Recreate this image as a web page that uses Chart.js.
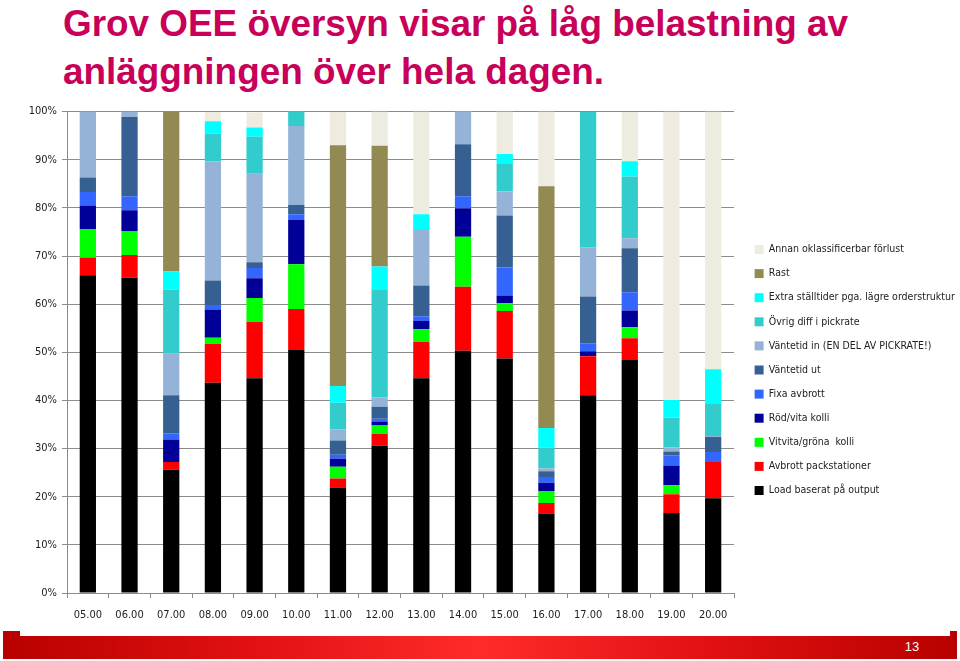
<!DOCTYPE html>
<html>
<head>
<meta charset="utf-8">
<script src="https://cdn.jsdelivr.net/npm/chart.js@4.4.0/dist/chart.umd.min.js"></script>
<style>
  html, body { margin: 0; padding: 0; background: #fff; }
  body { width: 960px; height: 661px; position: relative; overflow: hidden; }
  #title {
    position: absolute; left: 63px; top: 0px;
    font-family: "Liberation Sans", Arial, sans-serif; font-weight: bold;
    font-size: 37px; line-height: 48px; color: #c8005a; white-space: nowrap;
  }
  #title span { display: block; transform-origin: left center; }
  #chartBox { position: absolute; left: 0; top: 100px; width: 960px; height: 530px; }
  #footer {
    position: absolute; left: 3px; top: 636px; width: 954px; height: 23px;
    background: linear-gradient(to right, #b80000 0%, #e01010 25%, #ff2b2b 50%, #e01010 75%, #b80000 100%);
  }
  .tab { position: absolute; top: 631px; height: 6px; background: #b80000; }
  #pageNo {
    position: absolute; left: 902px; top: 638px; width: 20px; text-align: center;
    font-family: "Liberation Sans", Arial, sans-serif; font-size: 13px; line-height: 18px; color: #fff;
  }
</style>
</head>
<body>
<div id="title"><span id="t1">Grov OEE översyn visar på låg belastning av</span><span id="t2">anläggningen över hela dagen.</span></div>
<div id="chartBox"><canvas id="chart"></canvas></div>
<div class="tab" style="left:3px; width:17px"></div>
<div class="tab" style="left:950px; width:7px"></div>
<div id="footer"></div>
<div id="pageNo">13</div>
<script>
// --- data (percent of each hour) ---
const hours = ['05.00', '06.00', '07.00', '08.00', '09.00', '10.00', '11.00', '12.00',
               '13.00', '14.00', '15.00', '16.00', '17.00', '18.00', '19.00', '20.00'];

const loadOutput   = [66.0, 65.5, 25.6, 43.7, 44.6, 50.5, 21.9, 30.6, 44.6, 50.3, 48.7, 16.5, 41.1, 48.4, 16.6, 19.7];
const avbrottPack  = [3.7, 4.7, 1.6, 8.1, 11.7, 8.5, 1.9, 2.5, 7.6, 13.3, 9.9, 2.2, 8.1, 4.5, 3.9, 7.5];
const vitvitaGrona = [5.9, 5.0, 0, 1.2, 5.0, 9.3, 2.4, 1.7, 2.6, 10.4, 1.6, 2.5, 0, 2.3, 1.9, 0];
const rodVita      = [4.9, 4.3, 4.7, 5.9, 4.1, 9.2, 1.7, 0.8, 1.7, 5.9, 1.6, 1.7, 1.0, 3.5, 4.1, 0];
const fixaAvbrott  = [2.8, 2.9, 1.3, 0.9, 2.1, 1.2, 0.8, 0.6, 1.0, 2.5, 5.8, 1.2, 1.7, 3.8, 2.1, 2.1];
const ventetidUt   = [3.0, 16.5, 7.9, 5.1, 1.2, 1.9, 3.0, 2.5, 6.4, 10.8, 10.8, 1.2, 9.7, 9.1, 0.8, 3.1];
const ventetidIn   = [13.7, 1.1, 8.6, 24.8, 18.4, 16.4, 2.3, 1.9, 11.7, 6.9, 5.0, 0.6, 10.2, 2.1, 0.8, 0.2];
const ovrigDiff    = [0, 0, 13.3, 5.7, 7.7, 3.1, 5.5, 22.5, 0, 0, 5.7, 4.3, 28.1, 12.8, 6.2, 6.8];
const extraStall   = [0, 0, 3.8, 2.6, 1.9, 0, 3.5, 4.7, 3.1, 0, 2.1, 4.1, 0, 3.2, 3.7, 7.1];
const rast         = [0, 0, 33.1, 0, 0, 0, 50.0, 25.1, 0, 0, 0, 50.2, 0, 0, 0, 0];
const annanForlust = [0, 0, 0, 1.9, 3.1, 0, 6.9, 7.1, 21.3, 0, 8.8, 15.5, 0, 10.2, 59.9, 53.5];

const yTicks = [0, 10, 20, 30, 40, 50, 60, 70, 80, 90, 100];

// fit the title to the width it has on the slide
const t1 = document.getElementById('t1');
const t2 = document.getElementById('t2');
const sx = 785 / t1.getBoundingClientRect().width;
t1.style.transform = 'scaleX(' + sx + ')';
t2.style.transform = 'scaleX(' + sx + ')';

const NARROW = '"DejaVu Sans Condensed", "Liberation Sans", sans-serif';
const LEGEND_W = 219;

// legend gets a fixed width so the plot ends where it does on the slide
const fixLegendWidth = {
    id: 'fixLegendWidth',
    afterInit(chart) {
        const lg = chart.legend;
        const fit = lg.fit.bind(lg);
        lg.fit = function () { fit(); this.width = LEGEND_W; };
    }
};

const ds = (label, data, color) => ({ label: label, data: data, backgroundColor: color, borderWidth: 0 });

new Chart(document.getElementById('chart'), {
    type: 'bar',
    data: {
        labels: hours,
        datasets: [
            ds('Load baserat på output', loadOutput, '#000000'),
            ds('Avbrott packstationer', avbrottPack, '#ff0000'),
            ds('Vitvita/gröna  kolli', vitvitaGrona, '#00ff00'),
            ds('Röd/vita kolli', rodVita, '#000099'),
            ds('Fixa avbrott', fixaAvbrott, '#3366ff'),
            ds('Väntetid ut', ventetidUt, '#366092'),
            ds('Väntetid in (EN DEL AV PICKRATE!)', ventetidIn, '#95b3d7'),
            ds('Övrig diff i pickrate', ovrigDiff, '#33cccc'),
            ds('Extra ställtider pga. lägre orderstruktur', extraStall, '#00ffff'),
            ds('Rast', rast, '#938953'),
            ds('Annan oklassificerbar förlust', annanForlust, '#eeece1')
        ]
    },
    options: {
        responsive: true,
        maintainAspectRatio: false,
        animation: false,
        layout: { padding: { top: 10, right: 0, bottom: 0, left: 0 } },
        datasets: { bar: { barPercentage: 0.39, categoryPercentage: 1 } },
        scales: {
            x: {
                stacked: true,
                grid: { display: true, drawOnChartArea: false, drawTicks: true, tickLength: 5, color: '#8c8c8c', offset: true },
                border: { color: '#8c8c8c' },
                ticks: { color: '#222', font: { family: NARROW, size: 11 }, padding: 11, maxRotation: 0 },
                afterFit: (s) => { s.height = 37; }
            },
            y: {
                stacked: true,
                min: 0, max: 100,
                afterBuildTicks: (s) => { s.ticks = yTicks.map(v => ({ value: v })); },
                grid: { color: '#8c8c8c', tickLength: 5 },
                border: { color: '#8c8c8c' },
                ticks: { color: '#222', font: { family: NARROW, size: 11 }, padding: 5, callback: (v) => v + '%' },
                afterFit: (s) => { s.width = 67; }
            },
            gap: {
                position: 'right', min: 0, max: 100,
                grid: { display: false }, border: { display: false }, ticks: { display: false },
                afterFit: (s) => { s.width = 7; }
            }
        },
        plugins: {
            tooltip: { enabled: false },
            legend: {
                position: 'right',
                reverse: true,
                labels: {
                    boxWidth: 9, boxHeight: 9, padding: 13.6, color: '#222',
                    font: { family: NARROW, size: 10.5 }
                }
            }
        }
    },
    plugins: [fixLegendWidth]
});
</script>
</body>
</html>
